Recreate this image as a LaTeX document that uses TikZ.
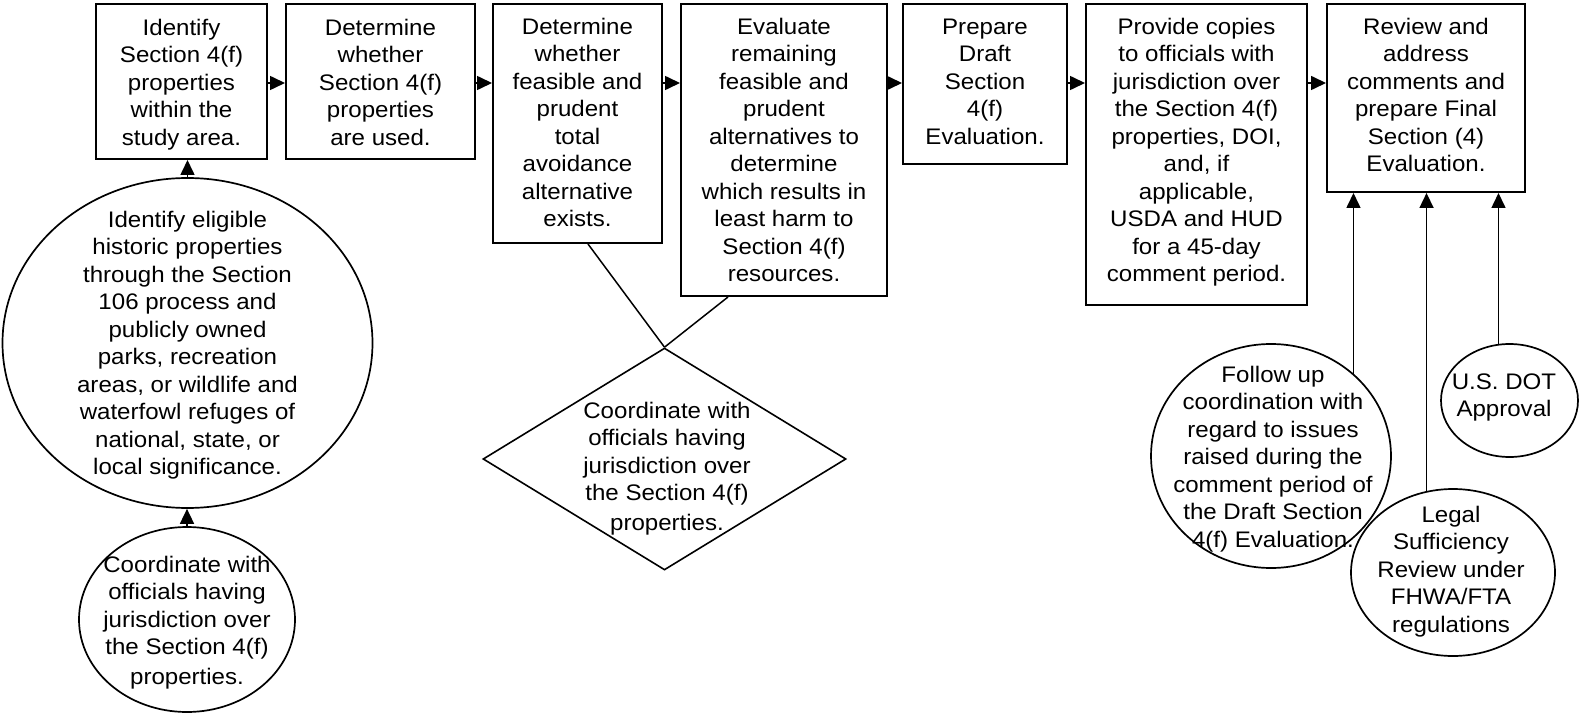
\documentclass[tikz,border=0pt]{standalone}
\usepackage{fontspec}
\setmainfont[FakeStretch=1.07]{Liberation Sans}
\usetikzlibrary{arrows.meta,shapes.geometric,calc}
\begin{document}
\begin{tikzpicture}[x=1pt,y=-1pt,
  box/.style={draw, rectangle, line width=2pt, inner sep=0pt},
  oval/.style={draw, ellipse, line width=1.7pt, inner sep=0pt},
  dia/.style={draw, diamond, line width=1.6pt, inner sep=0pt},
  tx/.style={align=center, anchor=north, inner sep=0pt, font={\fontsize{22.5}{27.5}\selectfont}},
  arr/.style={-{Triangle[length=15pt,width=14pt]}, line width=1.6pt},
  conn/.style={line width=1.5pt}]
\useasboundingbox (0,0) rectangle (1580,714);

% boxes
\node[box, minimum width=171, minimum height=155] (b1) at (181.5,81.5) {};
\node[box, minimum width=189, minimum height=155] (b2) at (380.5,81.5) {};
\node[box, minimum width=169, minimum height=239] (b3) at (577.5,123.5) {};
\node[box, minimum width=206, minimum height=292] (b4) at (784,150) {};
\node[box, minimum width=164, minimum height=160] (b5) at (985,84) {};
\node[box, minimum width=221, minimum height=301] (b6) at (1196.5,154.5) {};
\node[box, minimum width=198, minimum height=188] (b7) at (1426,98) {};

\node[tx] (b1t) at (181.5,15.75) {\strut Identify\\Section 4(f)\\properties\\within the\\study area.};
\node[tx] (b2t) at (380.5,15.75) {\strut Determine\\whether\\Section 4(f)\\properties\\are used.};
\node[tx] (b3t) at (577.5,14.75) {\strut Determine\\whether\\feasible and\\prudent\\total\\avoidance\\alternative\\exists.};
\node[tx] (b4t) at (784,14.75) {\strut Evaluate\\remaining\\feasible and\\prudent\\alternatives to\\determine\\which results in\\least harm to\\Section 4(f)\\resources.};
\node[tx] (b5t) at (985,14.75) {\strut Prepare\\Draft\\Section\\4(f)\\Evaluation.};
\node[tx] (b6t) at (1196.5,14.75) {\strut Provide copies\\to officials with\\jurisdiction over\\the Section 4(f)\\properties, DOI,\\and, if\\applicable,\\USDA and HUD\\for a 45-day\\comment period.};
\node[tx] (b7t) at (1426,14.75) {\strut Review and\\address\\comments and\\prepare Final\\Section (4)\\Evaluation.};

% ellipses and diamond
\node[oval, minimum width=370, minimum height=330] (big) at (187.5,343) {};
\node[oval, minimum width=216, minimum height=185] (small) at (187,619.5) {};
\node[dia, minimum width=363, minimum height=222] (dm) at (664.5,459) {};
\node[oval, minimum width=240, minimum height=224] (fu) at (1271,456) {};
\node[oval, minimum width=204, minimum height=167] (legal) at (1453,572.5) {};
\node[oval, minimum width=137, minimum height=113] (dot) at (1509.5,400.5) {};

\node[tx] (bigt) at (187.5,207.75) {\strut Identify eligible\\historic properties\\through the Section\\106 process and\\publicly owned\\parks, recreation\\areas, or wildlife and\\waterfowl refuges of\\national, state, or\\local significance.};
\node[tx] (smallt) at (187,552.75) {\strut Coordinate with\\officials having\\jurisdiction over\\the Section 4(f)\\[2.5pt]properties.};
\node[tx] (dmt) at (667,398.75) {\strut Coordinate with\\officials having\\jurisdiction over\\the Section 4(f)\\[2.5pt]properties.};
\node[tx] (fut) at (1273,362.75) {\strut Follow up\\coordination with\\regard to issues\\raised during the\\comment period of\\the Draft Section\\4(f) Evaluation.};
\node[tx] (legalt) at (1451,502.75) {\strut Legal\\Sufficiency\\Review under\\FHWA/FTA\\regulations};
\node[tx] (dott) at (1504,369.75) {\strut U.S. DOT\\Approval};

% horizontal arrows
\coordinate (row) at (0,83);
\draw[arr] (b1.east |- row) -- (b2.west |- row);
\draw[arr] (b2.east |- row) -- (b3.west |- row);
\draw[arr] (b3.east |- row) -- (b4.west |- row);
\draw[arr] (b4.east |- row) -- (b5.west |- row);
\draw[arr] (b5.east |- row) -- (b6.west |- row);
\draw[arr] (b6.east |- row) -- (b7.west |- row);

% vertical arrows
\draw[arr] (big.north) -- (big.north |- b1.south);
\draw[arr] (small.north) -- (small.north |- big.south);
\draw[arr] (fu.45) -- (fu.45 |- b7.south);
\draw[arr] (legal.108) -- (legal.108 |- b7.south);
\draw[arr] (dot.101) -- (dot.101 |- b7.south);

% diamond connectors
\draw[conn] ($(b3.south)+(10.5,0)$) -- (dm.north);
\draw[conn] ($(b4.south)+(-56,0)$) -- (dm.north);
\end{tikzpicture}
\end{document}
